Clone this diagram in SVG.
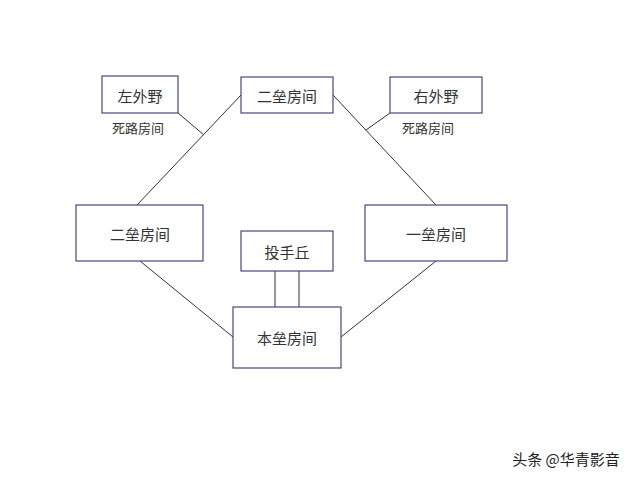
<svg xmlns="http://www.w3.org/2000/svg" width="640" height="480" viewBox="0 0 640 480">
<style>
rect{fill:#fff;stroke:#4b4485;stroke-width:1.2}
text{font-family:"Noto Sans CJK SC",sans-serif;font-size:15px;fill:#333;text-anchor:middle;dominant-baseline:central}
.s{font-size:13px}
line{stroke:#333;stroke-width:1}
</style>
<rect x="0" y="0" width="640" height="480" style="fill:#fff;stroke:none"/>
<g id="connectors">
<line x1="241" y1="95" x2="137" y2="205"/>
<line x1="178" y1="113" x2="204" y2="135"/>
<line x1="333" y1="95" x2="436" y2="205"/>
<line x1="390" y1="113" x2="366" y2="130"/>
<line x1="140" y1="261" x2="233" y2="337"/>
<line x1="436" y1="261" x2="341" y2="337"/>
<line x1="275" y1="271" x2="275" y2="307"/>
<line x1="299" y1="271" x2="299" y2="307"/>
</g>
<g id="lf"><rect x="102" y="76" width="76" height="37"/><text x="140" y="95">左外野</text></g>
<g id="second-top"><rect x="241" y="77" width="92" height="36"/><text x="287" y="95">二垒房间</text></g>
<g id="rf"><rect x="390" y="77" width="92" height="36"/><text x="436" y="95">右外野</text></g>
<g id="second"><rect x="76" y="205" width="127" height="56"/><text x="140" y="233">二垒房间</text></g>
<g id="first"><rect x="365" y="205" width="142" height="56"/><text x="436" y="233">一垒房间</text></g>
<g id="mound"><rect x="241" y="231" width="92" height="40"/><text x="287" y="251">投手丘</text></g>
<g id="home"><rect x="233" y="307" width="108" height="61"/><text x="287" y="337">本垒房间</text></g>
<text class="s" x="138" y="127">死路房间</text>
<text class="s" x="428" y="127">死路房间</text>
<text x="566" y="458" style="font-size:15px;fill:#222">头条 @华青影音</text>
</svg>
